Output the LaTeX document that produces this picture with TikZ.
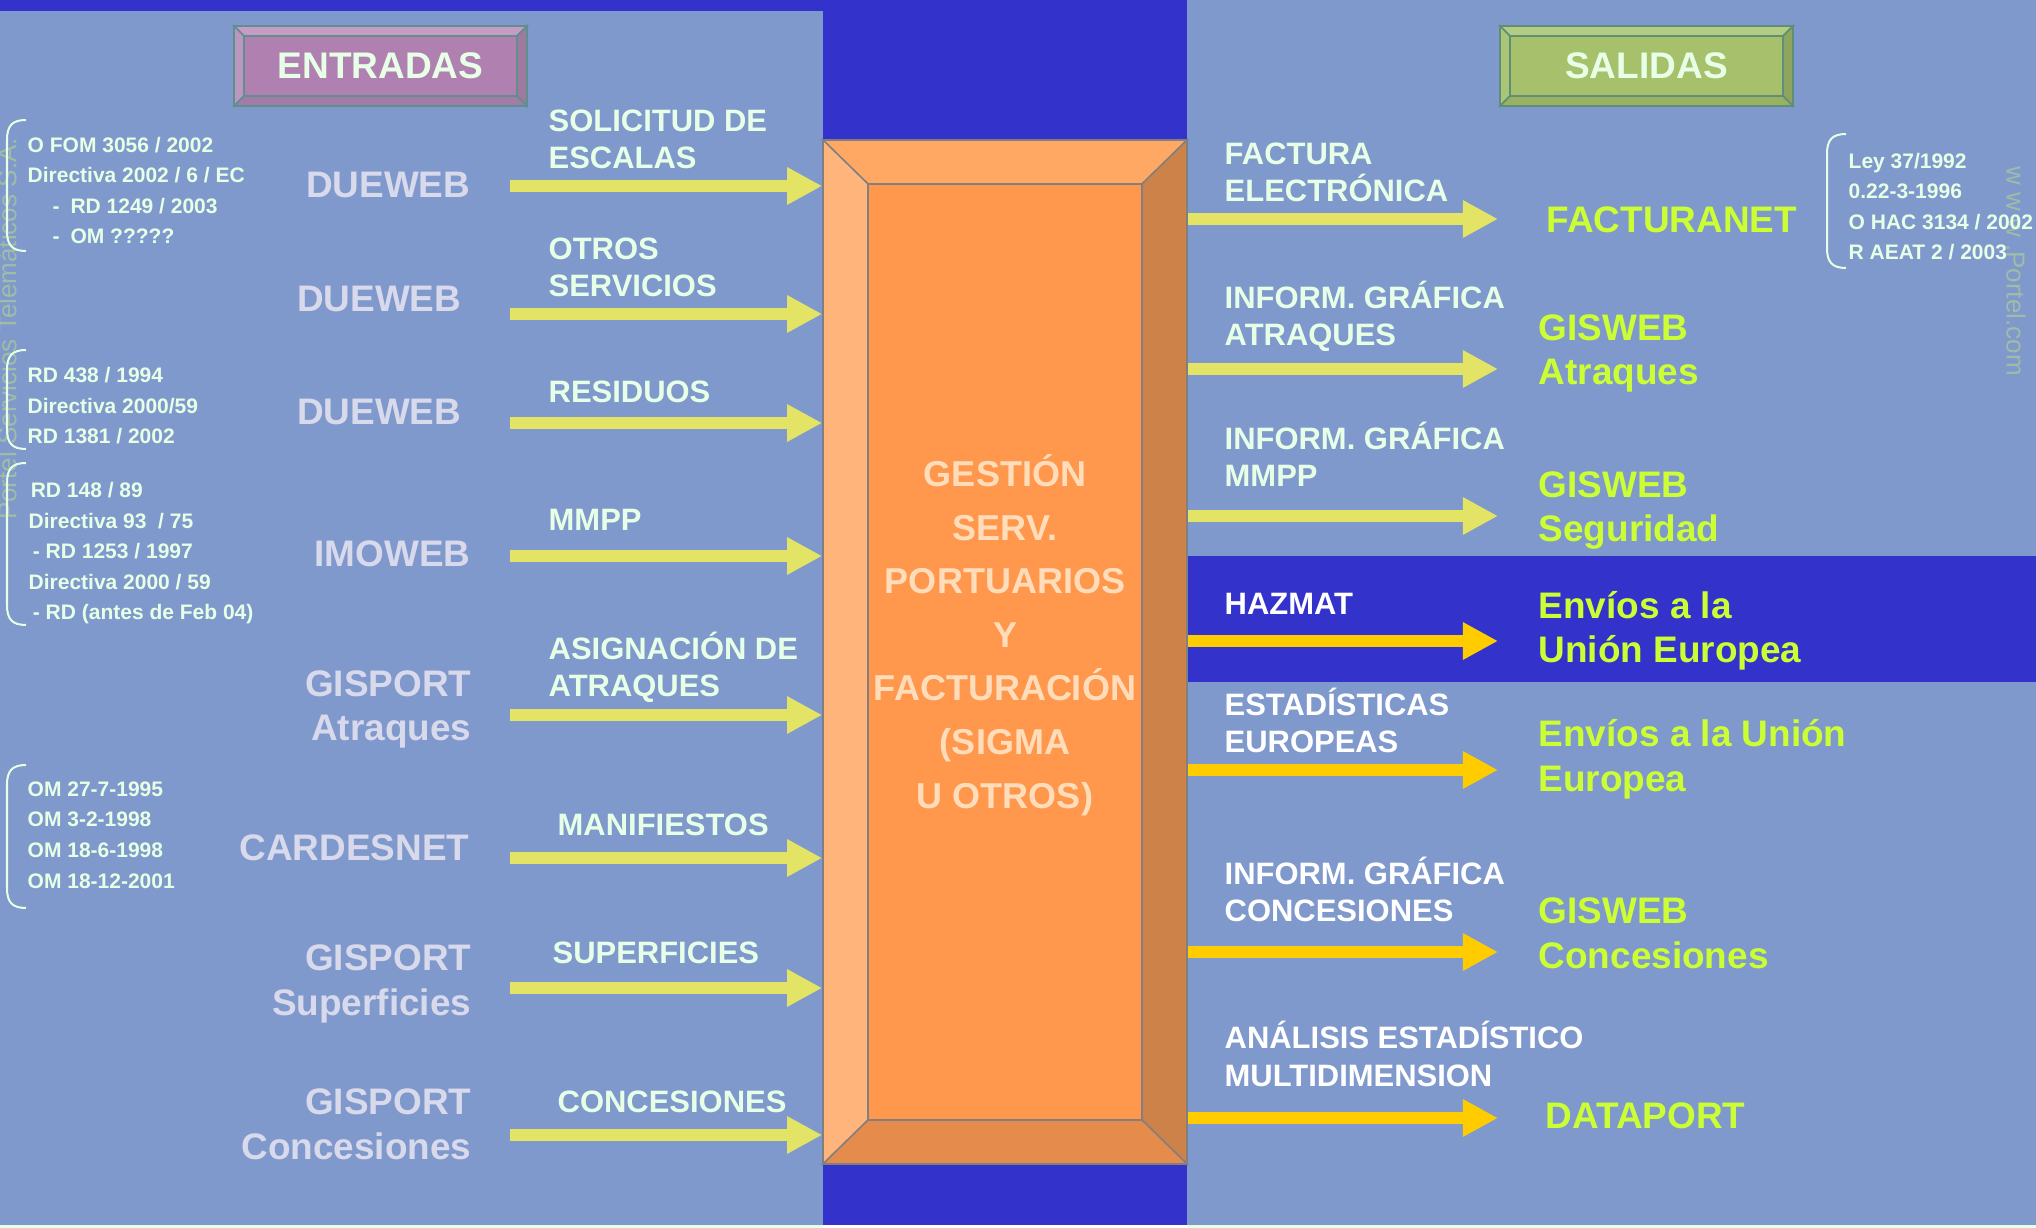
\documentclass[tikz,border=0pt]{standalone}
\usepackage{fontspec}
\setmainfont{Liberation Sans}
\usetikzlibrary{arrows.meta}
\definecolor{cDark}{HTML}{3333CC}
\definecolor{cPanel}{HTML}{7F99CC}
\definecolor{cArrow}{HTML}{E3E365}
\definecolor{cGold}{HTML}{FFCC00}
\definecolor{cPale}{HTML}{E6FFE6}
\definecolor{cSys}{HTML}{D9D9EC}
\definecolor{cOut}{HTML}{CCFF33}
\definecolor{cCore}{HTML}{FFDDBB}
\definecolor{cMark}{HTML}{9FBCA8}
% bevel colours: entradas / salidas / central block
\definecolor{entTop}{HTML}{C49CC4}\definecolor{entLft}{HTML}{BC96BE}\definecolor{entRgt}{HTML}{9E7A9E}
\definecolor{entBot}{HTML}{A27CA4}\definecolor{entMid}{HTML}{B080B0}\definecolor{entEdge}{HTML}{5F8F8F}
\definecolor{salTop}{HTML}{B3CC83}\definecolor{salLft}{HTML}{ABC576}\definecolor{salRgt}{HTML}{8FA55F}
\definecolor{salBot}{HTML}{99B163}\definecolor{salMid}{HTML}{A6C06B}\definecolor{salEdge}{HTML}{5F8F78}
\definecolor{sigTop}{HTML}{FFA864}\definecolor{sigLft}{HTML}{FFB47C}\definecolor{sigRgt}{HTML}{CC8248}
\definecolor{sigBot}{HTML}{E58B4B}\definecolor{sigMid}{HTML}{FF974C}\definecolor{sigEdge}{HTML}{808080}
\tikzset{
	msg/.style    ={font=\fontsize{8.8}{10.8}\selectfont\bfseries, text=cPale, align=left, inner sep=0pt, anchor=base west},
	app/.style    ={font=\fontsize{10.5}{12.66}\selectfont\bfseries, text=cSys, align=right, inner sep=0pt, anchor=base east},
	outapp/.style ={font=\fontsize{10.5}{12.66}\selectfont\bfseries, text=cOut, align=left, inner sep=0pt, anchor=base west},
	ley/.style    ={font=\fontsize{5.97}{8.68}\selectfont\bfseries, text=cPale, align=left, inner sep=0pt, anchor=base west},
	core/.style   ={font=\fontsize{10.24}{15.22}\selectfont\bfseries, text=cCore, align=center, inner sep=0pt, anchor=base},
	head/.style   ={font=\fontsize{10.53}{12}\selectfont\bfseries, text=cPale, inner sep=0pt},
	wmark/.style  ={font=\fontsize{7.4}{8}\selectfont, text=cMark, inner sep=0pt},
	sigbox/.style ={rectangle, minimum width=36.4mm, minimum height=102.4mm, inner sep=0pt},
	inflow/.style ={line width=1.2mm, color=cArrow, -{Triangle[length=3.5mm, width=3.5mm]}},
	outflow/.style={line width=1.2mm, -{Triangle[length=3.5mm, width=3.5mm]}},
	brace/.style  ={draw=cPale, line width=0.2mm},
}
% bevelled box: x1 y1 x2 y2 dx dy colour-prefix
\newcommand{\bevbox}[7]{%
	\filldraw[fill=#7Top, draw=#7Edge, line width=0.15mm] (#1,#2) -- (#3,#2) -- (#3-#5,#2+#6) -- (#1+#5,#2+#6) -- cycle;
	\filldraw[fill=#7Lft, draw=#7Edge, line width=0.15mm] (#1,#2) -- (#1+#5,#2+#6) -- (#1+#5,#4-#6) -- (#1,#4) -- cycle;
	\filldraw[fill=#7Rgt, draw=#7Edge, line width=0.15mm] (#3,#2) -- (#3,#4) -- (#3-#5,#4-#6) -- (#3-#5,#2+#6) -- cycle;
	\filldraw[fill=#7Bot, draw=#7Edge, line width=0.15mm] (#1,#4) -- (#1+#5,#4-#6) -- (#3-#5,#4-#6) -- (#3,#4) -- cycle;
	\filldraw[fill=#7Mid, draw=#7Edge, line width=0.15mm] (#1+#5,#2+#6) rectangle (#3-#5,#4-#6);
	\draw[#7Edge, line width=0.2mm] (#1,#2) rectangle (#3,#4);
}
% rounded bracket: x ytop ybot
\newcommand{\legbrace}[3]{%
	\draw[brace] (#1+19,#2) .. controls (#1+5,#2) and (#1,#2+6) .. (#1,#2+20) -- (#1,#3-20) .. controls (#1,#3-6) and (#1+5,#3) .. (#1+19,#3);
}
\begin{document}
\begin{tikzpicture}[x=0.01cm, y=-0.01cm]
	\clip (0,0) rectangle (2036,1228);
	% panels
	\fill[white] (0,0) rectangle (2036,1228);
	\fill[cPale] (0,1225) rectangle (823,1228) (1187,1225) rectangle (2036,1228);
	\fill[cDark] (0,0) rectangle (2036,1225);
	\fill[cPanel] (0,11) rectangle (823,1225);
	\fill[cPanel] (1187,0) rectangle (2036,1225);
	\fill[cDark] (1187,556) rectangle (2036,682);
	\node[wmark, rotate=90] (wm1) at (7,329) {Portel Servicios Telemáticos S.A.};
	\node[wmark, rotate=-90] (wm2) at (2016,271) {w w w .Portel.com};

	% headers and central block
	\bevbox{234}{26}{527}{106}{10}{10}{ent}
	\bevbox{1500}{26}{1793}{106}{10}{10}{sal}
	\node[head] (entradas) at (380.5,66) {ENTRADAS};
	\node[head] (salidas) at (1646.5,66) {SALIDAS};
	\bevbox{823}{140}{1187}{1164}{45}{44}{sig}
	\node[sigbox] (sigma) at (1005,652) {};
	% base = last line
	\node[core] (sigtext) at (1005,808) {GESTIÓN\\SERV.\\PORTUARIOS\\Y\\FACTURACIÓN\\(SIGMA\\U OTROS)};

	% entradas
	\foreach \i/\y in {1/186, 2/314, 3/423, 4/556, 5/715, 6/858, 7/988, 8/1135} {
		\coordinate (src\i) at (510,\y);
		\draw[inflow] (src\i) -- (src\i -| sigma.west);
	}
	\node[msg] (m1) at (548,169) {SOLICITUD DE\\ESCALAS};
	\node[msg] (m2) at (548,297) {OTROS\\SERVICIOS};
	\node[msg] (m3) at (548,403) {RESIDUOS};
	\node[msg] (m4) at (548,531) {MMPP};
	\node[msg] (m5) at (548,697) {ASIGNACIÓN DE\\ATRAQUES};
	\node[msg] (m6) at (557,835) {MANIFIESTOS};
	\node[msg] (m7) at (552,963) {SUPERFICIES};
	\node[msg] (m8) at (557,1112) {CONCESIONES};

	\node[app] (a1) at (471,198) {DUEWEB};
	\node[app] (a2) at (462,312) {DUEWEB};
	\node[app] (a3) at (462,425) {DUEWEB};
	\node[app] (a4) at (471,567) {IMOWEB};
	\node[app] (a5) at (472,741) {GISPORT\\Atraques};
	\node[app] (a6) at (470,860) {CARDESNET};
	\node[app] (a7) at (472,1015) {GISPORT\\Superficies};
	\node[app] (a8) at (472,1159) {GISPORT\\Concesiones};

	\legbrace{7}{120}{251}
	\legbrace{7}{350}{449}
	\legbrace{7}{463}{625}
	\legbrace{7}{765}{908}
	\node[ley] (n1) at (27,244) {O FOM 3056 / 2002\\Directiva 2002 / 6 / EC\\\hspace*{7.1pt}-\hspace*{3.1pt}RD 1249 / 2003\\\hspace*{7.1pt}-\hspace*{3.1pt}OM ?????};
	\node[ley] (n2) at (27,444) {RD 438 / 1994\\Directiva 2000/59\\RD 1381 / 2002};
	\node[ley] (n3) at (28,620) {\hspace*{0.6pt}RD 148 / 89\\Directiva 93 \ / 75\\\hspace*{1.2pt}- RD 1253 / 1997\\Directiva 2000 / 59\\\hspace*{1.2pt}- RD (antes de Feb 04)};
	\node[ley] (n4) at (27,888) {OM 27-7-1995\\OM 3-2-1998\\OM 18-6-1998\\OM 18-12-2001};

	% salidas
	\foreach \i/\y/\c in {1/219/cArrow, 2/369/cArrow, 3/516/cArrow, 4/641/cGold, 5/770/cGold, 6/952/cGold, 7/1118/cGold} {
		\coordinate (dst\i) at (1498,\y);
		\draw[outflow, color=\c] (dst\i -| sigma.east) -- (dst\i);
	}
	\node[msg] (r1) at (1224,202) {FACTURA\\ELECTRÓNICA};
	\node[msg] (r2) at (1224,346) {INFORM. GRÁFICA\\ATRAQUES};
	\node[msg] (r3) at (1224,487) {INFORM. GRÁFICA\\MMPP};
	\node[msg, text=white] (r4) at (1224,615) {HAZMAT};
	\node[msg, text=white] (r5) at (1224,753) {ESTADÍSTICAS\\EUROPEAS};
	\node[msg, text=white] (r6) at (1224,922) {INFORM. GRÁFICA\\CONCESIONES};
	\node[msg, text=white] (r7) at (1224,1086) {ANÁLISIS ESTADÍSTICO\\MULTIDIMENSION};

	\node[outapp] (o1) at (1546,233) {FACTURANET};
	\node[outapp] (o2) at (1538,385) {GISWEB\\Atraques};
	\node[outapp] (o3) at (1538,542) {GISWEB\\Seguridad};
	\node[outapp] (o4) at (1538,663) {Envíos a la\\Unión Europea};
	\node[outapp] (o5) at (1538,791) {Envíos a la Unión\\Europea};
	\node[outapp] (o6) at (1538,968) {GISWEB\\Concesiones};
	\node[outapp] (o7) at (1545,1128) {DATAPORT};

	\legbrace{1827}{134}{268}
	\node[ley] (n5) at (1848,260) {Ley 37/1992\\0.22-3-1996\\O HAC 3134 / 2002\\R AEAT 2 / 2003};
\end{tikzpicture}
\end{document}
